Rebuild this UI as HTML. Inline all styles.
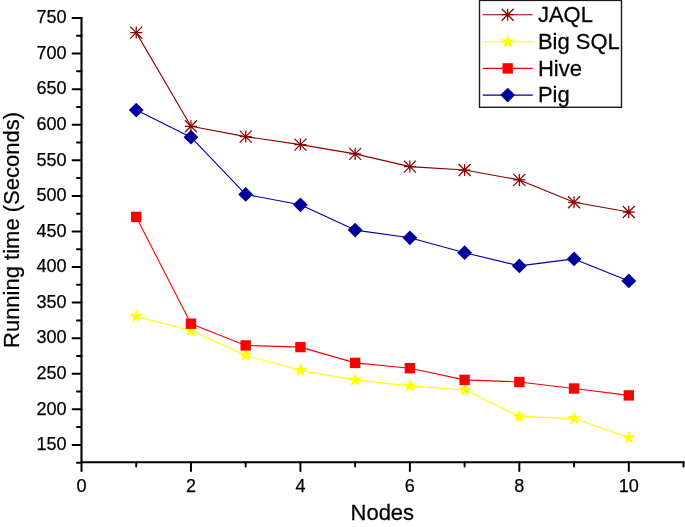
<!DOCTYPE html>
<html><head><meta charset="utf-8"><style>
html,body{margin:0;padding:0;background:#fff;}
body{width:685px;height:527px;overflow:hidden;}
svg{display:block;will-change:transform;font-family:"Liberation Sans",sans-serif;}
</style></head><body>
<svg width="685" height="527" viewBox="0 0 685 527">
<rect width="685" height="527" fill="#fff"/>
<path d="M81.5,16.95V462.3H684.5799999999999" stroke="#000" stroke-width="2.1" fill="none"/>
<path d="M72.60,444.90H81.5M72.60,409.32H81.5M72.60,373.75H81.5M72.60,338.18H81.5M72.60,302.60H81.5M72.60,267.02H81.5M72.60,231.45H81.5M72.60,195.88H81.5M72.60,160.30H81.5M72.60,124.73H81.5M72.60,89.15H81.5M72.60,53.58H81.5M72.60,18.00H81.5M77.00,462.69H81.5M77.00,427.11H81.5M77.00,391.54H81.5M77.00,355.96H81.5M77.00,320.39H81.5M77.00,284.81H81.5M77.00,249.24H81.5M77.00,213.66H81.5M77.00,178.09H81.5M77.00,142.51H81.5M77.00,106.94H81.5M77.00,71.36H81.5M77.00,35.79H81.5M81.50,462.3V470.90M190.96,462.3V470.90M300.42,462.3V470.90M409.88,462.3V470.90M519.34,462.3V470.90M628.80,462.3V470.90M136.23,462.3V466.50M245.69,462.3V466.50M355.15,462.3V466.50M464.61,462.3V466.50M574.07,462.3V466.50M683.53,462.3V466.50" stroke="#000" stroke-width="2.0" stroke-linecap="round" fill="none"/>
<g font-size="18" fill="#000" stroke="#000" stroke-width="0.25"><text x="66.6" y="450.10" text-anchor="end">150</text><text x="66.6" y="414.52" text-anchor="end">200</text><text x="66.6" y="378.95" text-anchor="end">250</text><text x="66.6" y="343.38" text-anchor="end">300</text><text x="66.6" y="307.80" text-anchor="end">350</text><text x="66.6" y="272.22" text-anchor="end">400</text><text x="66.6" y="236.65" text-anchor="end">450</text><text x="66.6" y="201.07" text-anchor="end">500</text><text x="66.6" y="165.50" text-anchor="end">550</text><text x="66.6" y="129.93" text-anchor="end">600</text><text x="66.6" y="94.35" text-anchor="end">650</text><text x="66.6" y="58.78" text-anchor="end">700</text><text x="66.6" y="23.20" text-anchor="end">750</text><text x="81.50" y="491.8" text-anchor="middle">0</text><text x="190.96" y="491.8" text-anchor="middle">2</text><text x="300.42" y="491.8" text-anchor="middle">4</text><text x="409.88" y="491.8" text-anchor="middle">6</text><text x="519.34" y="491.8" text-anchor="middle">8</text><text x="628.80" y="491.8" text-anchor="middle">10</text></g>
<text transform="translate(382.3,519.6) scale(1,1.03)" font-size="22" text-anchor="middle" stroke="#000" stroke-width="0.25">Nodes</text>
<text transform="translate(18.7,230) rotate(-90) scale(1,1.03)" font-size="22" text-anchor="middle" stroke="#000" stroke-width="0.25">Running time (Seconds)</text>
<polyline points="136.23,32.60 190.96,126.30 245.69,136.60 300.42,144.60 355.15,153.90 409.88,166.60 464.61,170.00 519.34,179.90 574.07,202.30 628.80,212.00" fill="none" stroke="#8b0000" stroke-width="1.1" stroke-linejoin="round"/>
<path d="M130.23,32.60H142.23M136.23,26.60V38.60M130.23,26.60L142.23,38.60M130.23,38.60L142.23,26.60" stroke="#8b0000" stroke-width="1.25" fill="none"/>
<path d="M184.96,126.30H196.96M190.96,120.30V132.30M184.96,120.30L196.96,132.30M184.96,132.30L196.96,120.30" stroke="#8b0000" stroke-width="1.25" fill="none"/>
<path d="M239.69,136.60H251.69M245.69,130.60V142.60M239.69,130.60L251.69,142.60M239.69,142.60L251.69,130.60" stroke="#8b0000" stroke-width="1.25" fill="none"/>
<path d="M294.42,144.60H306.42M300.42,138.60V150.60M294.42,138.60L306.42,150.60M294.42,150.60L306.42,138.60" stroke="#8b0000" stroke-width="1.25" fill="none"/>
<path d="M349.15,153.90H361.15M355.15,147.90V159.90M349.15,147.90L361.15,159.90M349.15,159.90L361.15,147.90" stroke="#8b0000" stroke-width="1.25" fill="none"/>
<path d="M403.88,166.60H415.88M409.88,160.60V172.60M403.88,160.60L415.88,172.60M403.88,172.60L415.88,160.60" stroke="#8b0000" stroke-width="1.25" fill="none"/>
<path d="M458.61,170.00H470.61M464.61,164.00V176.00M458.61,164.00L470.61,176.00M458.61,176.00L470.61,164.00" stroke="#8b0000" stroke-width="1.25" fill="none"/>
<path d="M513.34,179.90H525.34M519.34,173.90V185.90M513.34,173.90L525.34,185.90M513.34,185.90L525.34,173.90" stroke="#8b0000" stroke-width="1.25" fill="none"/>
<path d="M568.07,202.30H580.07M574.07,196.30V208.30M568.07,196.30L580.07,208.30M568.07,208.30L580.07,196.30" stroke="#8b0000" stroke-width="1.25" fill="none"/>
<path d="M622.80,212.00H634.80M628.80,206.00V218.00M622.80,206.00L634.80,218.00M622.80,218.00L634.80,206.00" stroke="#8b0000" stroke-width="1.25" fill="none"/>
<polyline points="136.23,316.40 190.96,330.50 245.69,355.20 300.42,370.50 355.15,379.90 409.88,385.90 464.61,390.00 519.34,416.40 574.07,418.60 628.80,437.60" fill="none" stroke="#ffff00" stroke-width="1.1" stroke-linejoin="round"/>
<polygon points="136.23,309.20 138.01,313.95 143.08,314.18 139.11,317.33 140.46,322.22 136.23,319.42 132.00,322.22 133.35,317.33 129.38,314.18 134.45,313.95" fill="#ffff00"/>
<polygon points="190.96,323.30 192.74,328.05 197.81,328.28 193.84,331.43 195.19,336.32 190.96,333.52 186.73,336.32 188.08,331.43 184.11,328.28 189.18,328.05" fill="#ffff00"/>
<polygon points="245.69,348.00 247.47,352.75 252.54,352.98 248.57,356.13 249.92,361.02 245.69,358.22 241.46,361.02 242.81,356.13 238.84,352.98 243.91,352.75" fill="#ffff00"/>
<polygon points="300.42,363.30 302.20,368.05 307.27,368.28 303.30,371.43 304.65,376.32 300.42,373.52 296.19,376.32 297.54,371.43 293.57,368.28 298.64,368.05" fill="#ffff00"/>
<polygon points="355.15,372.70 356.93,377.45 362.00,377.68 358.03,380.83 359.38,385.72 355.15,382.92 350.92,385.72 352.27,380.83 348.30,377.68 353.37,377.45" fill="#ffff00"/>
<polygon points="409.88,378.70 411.66,383.45 416.73,383.68 412.76,386.83 414.11,391.72 409.88,388.92 405.65,391.72 407.00,386.83 403.03,383.68 408.10,383.45" fill="#ffff00"/>
<polygon points="464.61,382.80 466.39,387.55 471.46,387.78 467.49,390.93 468.84,395.82 464.61,393.02 460.38,395.82 461.73,390.93 457.76,387.78 462.83,387.55" fill="#ffff00"/>
<polygon points="519.34,409.20 521.12,413.95 526.19,414.18 522.22,417.33 523.57,422.22 519.34,419.42 515.11,422.22 516.46,417.33 512.49,414.18 517.56,413.95" fill="#ffff00"/>
<polygon points="574.07,411.40 575.85,416.15 580.92,416.38 576.95,419.53 578.30,424.42 574.07,421.62 569.84,424.42 571.19,419.53 567.22,416.38 572.29,416.15" fill="#ffff00"/>
<polygon points="628.80,430.40 630.58,435.15 635.65,435.38 631.68,438.53 633.03,443.42 628.80,440.62 624.57,443.42 625.92,438.53 621.95,435.38 627.02,435.15" fill="#ffff00"/>
<polyline points="136.23,216.90 190.96,323.70 245.69,345.40 300.42,347.10 355.15,362.90 409.88,368.20 464.61,379.90 519.34,382.00 574.07,388.50 628.80,395.40" fill="none" stroke="#ff0000" stroke-width="1.1" stroke-linejoin="round"/>
<rect x="131.03" y="211.70" width="10.4" height="10.4" fill="#ff0000"/>
<rect x="185.76" y="318.50" width="10.4" height="10.4" fill="#ff0000"/>
<rect x="240.49" y="340.20" width="10.4" height="10.4" fill="#ff0000"/>
<rect x="295.22" y="341.90" width="10.4" height="10.4" fill="#ff0000"/>
<rect x="349.95" y="357.70" width="10.4" height="10.4" fill="#ff0000"/>
<rect x="404.68" y="363.00" width="10.4" height="10.4" fill="#ff0000"/>
<rect x="459.41" y="374.70" width="10.4" height="10.4" fill="#ff0000"/>
<rect x="514.14" y="376.80" width="10.4" height="10.4" fill="#ff0000"/>
<rect x="568.87" y="383.30" width="10.4" height="10.4" fill="#ff0000"/>
<rect x="623.60" y="390.20" width="10.4" height="10.4" fill="#ff0000"/>
<polyline points="136.23,110.10 190.96,137.20 245.69,194.40 300.42,204.80 355.15,230.10 409.88,237.80 464.61,252.70 519.34,265.90 574.07,258.90 628.80,280.90" fill="none" stroke="#00009c" stroke-width="1.1" stroke-linejoin="round"/>
<polygon points="136.23,102.70 143.63,110.10 136.23,117.50 128.83,110.10" fill="#00009c"/>
<polygon points="190.96,129.80 198.36,137.20 190.96,144.60 183.56,137.20" fill="#00009c"/>
<polygon points="245.69,187.00 253.09,194.40 245.69,201.80 238.29,194.40" fill="#00009c"/>
<polygon points="300.42,197.40 307.82,204.80 300.42,212.20 293.02,204.80" fill="#00009c"/>
<polygon points="355.15,222.70 362.55,230.10 355.15,237.50 347.75,230.10" fill="#00009c"/>
<polygon points="409.88,230.40 417.28,237.80 409.88,245.20 402.48,237.80" fill="#00009c"/>
<polygon points="464.61,245.30 472.01,252.70 464.61,260.10 457.21,252.70" fill="#00009c"/>
<polygon points="519.34,258.50 526.74,265.90 519.34,273.30 511.94,265.90" fill="#00009c"/>
<polygon points="574.07,251.50 581.47,258.90 574.07,266.30 566.67,258.90" fill="#00009c"/>
<polygon points="628.80,273.50 636.20,280.90 628.80,288.30 621.40,280.90" fill="#00009c"/>
<rect x="479.5" y="0.4" width="142.00" height="106.90" fill="#fff" stroke="#1a1a1a" stroke-width="1.4"/>
<path d="M483.2,14.7H532.3" stroke="#8b0000" stroke-width="1.1" stroke-linecap="round"/>
<path d="M501.70,14.70H513.70M507.70,8.70V20.70M501.70,8.70L513.70,20.70M501.70,20.70L513.70,8.70" stroke="#8b0000" stroke-width="1.25" fill="none"/>
<text transform="translate(537.9,21.90) scale(1,1.03)" font-size="22" stroke="#000" stroke-width="0.25">JAQL</text>
<path d="M483.2,41.7H532.3" stroke="#ffff00" stroke-width="1.1" stroke-linecap="round"/>
<polygon points="507.70,34.50 509.48,39.25 514.55,39.48 510.58,42.63 511.93,47.52 507.70,44.72 503.47,47.52 504.82,42.63 500.85,39.48 505.92,39.25" fill="#ffff00"/>
<text transform="translate(537.9,48.90) scale(1,1.03)" font-size="22" stroke="#000" stroke-width="0.25">Big SQL</text>
<path d="M483.2,68.4H532.3" stroke="#ff0000" stroke-width="1.1" stroke-linecap="round"/>
<rect x="502.50" y="63.20" width="10.4" height="10.4" fill="#ff0000"/>
<text transform="translate(537.9,75.60) scale(1,1.03)" font-size="22" stroke="#000" stroke-width="0.25">Hive</text>
<path d="M483.2,95.1H532.3" stroke="#00009c" stroke-width="1.1" stroke-linecap="round"/>
<polygon points="507.70,87.70 515.10,95.10 507.70,102.50 500.30,95.10" fill="#00009c"/>
<text transform="translate(537.9,102.30) scale(1,1.03)" font-size="22" stroke="#000" stroke-width="0.25">Pig</text>
</svg>
</body></html>
